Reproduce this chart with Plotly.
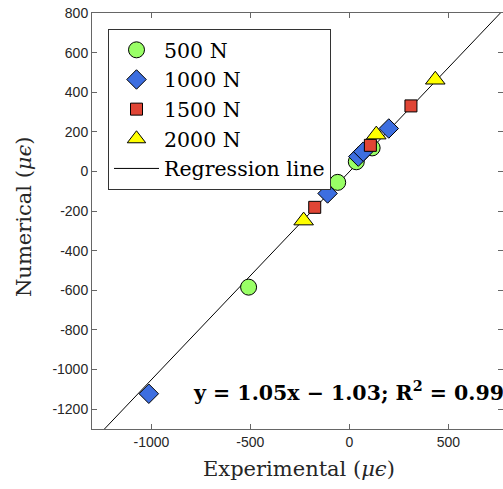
import plotly.graph_objects as go

# Data (experimental, numerical) in micro-strain
x500 = [-509, -59, 35, 115]
y500 = [-584, -55, 49, 119]
x1000 = [-1013, -110, 45, 70, 199]
y1000 = [-1122, -111, 75, 100, 217]
x1500 = [-175, 106, 311]
y1500 = [-181, 132, 331]
x2000 = [-231, 136, 434]
y2000 = [-248, 186, 463]

slope = 1.05
intercept = -1.03
x_line = [-1300, 800]
y_line = [slope * v + intercept for v in x_line]

xticks = [-1000, -500, 0, 500]
yticks = [800, 600, 400, 200, 0, -200, -400, -600, -800, -1000, -1200]

W, H = 503, 489
ml, mr, mt, mb = 92, 0, 13, 60
PW, PH = W - ml - mr, H - mt - mb


def px(xp):
    return (xp - ml) / PW


def py(yp):
    return (H - mb - yp) / PH


fig = go.Figure()
fig.add_trace(go.Scatter(x=x_line, y=y_line, mode="lines", name="Regression line",
                         legendrank=5, line=dict(color="black", width=1)))
fig.add_trace(go.Scatter(x=x500, y=y500, mode="markers", name="500 N", legendrank=1,
                         marker=dict(symbol="circle", size=16, color="#99ff66",
                                     line=dict(color="black", width=1))))
fig.add_trace(go.Scatter(x=x1000, y=y1000, mode="markers", name="1000 N", legendrank=2,
                         marker=dict(symbol="diamond", size=15, color="#3d6ee0",
                                     line=dict(color="black", width=1))))
fig.add_trace(go.Scatter(x=x1500, y=y1500, mode="markers", name="1500 N", legendrank=3,
                         marker=dict(symbol="square", size=12, color="#e04535",
                                     line=dict(color="black", width=1))))
fig.add_trace(go.Scatter(x=x2000, y=y2000, mode="markers", name="2000 N", legendrank=4,
                         marker=dict(symbol="triangle-up", size=17, color="#ffff00",
                                     line=dict(color="black", width=1))))

axis_common = dict(showline=True, linecolor="#666666", linewidth=1, mirror="ticks",
                   ticks="inside", ticklen=5, tickcolor="#666666", showgrid=False,
                   zeroline=False, automargin=False,
                   tickfont=dict(family="Liberation Sans, Arial", size=14, color="#262626"))

fig.update_xaxes(range=[-1300, 776], tickvals=xticks, ticktext=[str(v) for v in xticks],
                 **axis_common)
fig.update_yaxes(range=[-1300, 800], tickvals=yticks, ticktext=[str(v) for v in yticks],
                 **axis_common)

title_font = dict(family="DejaVu Serif, serif", size=21, color="#262626")
fig.add_annotation(x=px(299), y=py(469), xref="paper", yref="paper",
                   text="Experimental (<i>μϵ</i>)", showarrow=False,
                   xanchor="center", yanchor="middle", font=title_font)
fig.add_annotation(x=px(24), y=py(217), xref="paper", yref="paper",
                   text="Numerical (<i>μϵ</i>)", showarrow=False, textangle=-90,
                   xanchor="center", yanchor="middle", font=title_font)
fig.add_annotation(x=px(191), y=py(391), xref="paper", yref="paper",
                   xanchor="left", yanchor="middle",
                   text="<b>y = 1.05x − 1.03; R<sup>2</sup> = 0.99</b>",
                   showarrow=False,
                   font=dict(family="DejaVu Serif, serif", size=20.5, color="black"))

fig.update_layout(
    width=W, height=H, margin=dict(l=ml, r=mr, t=mt, b=mb, autoexpand=False),
    plot_bgcolor="white", paper_bgcolor="white",
    legend=dict(x=px(108), y=py(29), xanchor="left", yanchor="top", traceorder="normal",
                bgcolor="white", bordercolor="#333333", borderwidth=1,
                font=dict(family="DejaVu Serif, serif", size=20.5, color="black"),
                itemwidth=45),
    showlegend=True,
)

fig.write_html("out.html", config={"displayModeBar": False},
               post_script="document.body.style.margin='0';document.body.style.overflow='hidden';")
